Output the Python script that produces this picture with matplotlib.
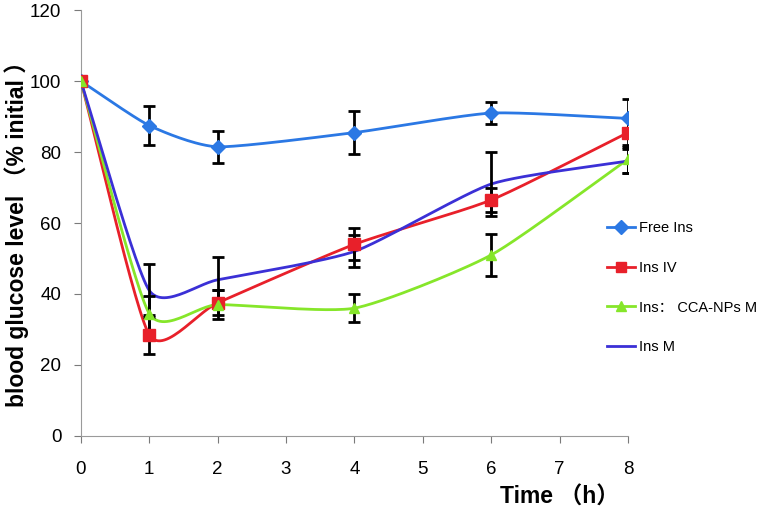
import numpy as np
import matplotlib.pyplot as plt

time_h = [0, 1, 2, 4, 6, 8]

free_ins = [100, 87.5, 81.5, 85.5, 91, 89.5]
free_ins_err = [0, 5.5, 4.5, 6, 3, 5.5]

ins_iv = [100, 28.5, 37.5, 54, 66.5, 85.5]
ins_iv_err = [0, 5.5, 3.5, 4.5, 3.5, 4]

ins_cca = [100, 34.5, 37, 36, 51, 78]
ins_cca_err = [0, 5, 4, 4, 6, 4]

ins_m = [100, 41, 44, 52, 71, 77.5]
ins_m_err = [0, 7.5, 6.5, 4.5, 9, 3.5]

labels = ['Free Ins', 'Ins IV', 'Ins\uff1a CCA-NPs M', 'Ins M']
colors = ['#2b78e4', '#e8202a', '#86e62a', '#3b30d6']
markers = ['D', 's', '^', None]

FONT = ['Liberation Sans', 'Noto Sans CJK SC', 'DejaVu Sans']
plt.rcParams['font.family'] = FONT


def smooth(x, y, n=30):
    # catmull-rom style smoothing, similar to excel smoothed lines
    x = np.asarray(x, float)
    y = np.asarray(y, float)
    px = np.concatenate([[2 * x[0] - x[1]], x, [2 * x[-1] - x[-2]]])
    py = np.concatenate([[2 * y[0] - y[1]], y, [2 * y[-1] - y[-2]]])
    xs, ys = [], []
    t = np.linspace(0, 1, n)
    for i in range(1, len(px) - 2):
        for p, out in ((px, xs), (py, ys)):
            p0, p1, p2, p3 = p[i - 1], p[i], p[i + 1], p[i + 2]
            m1 = (p2 - p0) / 2 * 0.6
            m2 = (p3 - p1) / 2 * 0.6
            h00 = 2 * t**3 - 3 * t**2 + 1
            h10 = t**3 - 2 * t**2 + t
            h01 = -2 * t**3 + 3 * t**2
            h11 = t**3 - t**2
            out.extend(h00 * p1 + h10 * m1 + h01 * p2 + h11 * m2)
    return np.array(xs), np.array(ys)


fig = plt.figure(figsize=(7.63, 5.11), dpi=100)
ax = fig.add_axes([0.106, 0.147, 0.717, 0.833])

series = [(free_ins, free_ins_err), (ins_iv, ins_iv_err), (ins_cca, ins_cca_err), (ins_m, ins_m_err)]
handles = []
for (vals, errs), c, m, lab in zip(series, colors, markers, labels):
    sx, sy = smooth(time_h, vals)
    ax.plot(sx, sy, color=c, lw=2, zorder=3)
    ax.errorbar(time_h, vals, yerr=errs, fmt='none', ecolor='black',
                elinewidth=2, capsize=4, capthick=2, zorder=4)
    if m is not None:
        ax.plot(time_h, vals, ls='none', marker=m, color=c,
                markersize=8 if m == 's' else 7, zorder=5)
    h, = ax.plot([], [], color=c, lw=2, marker=m, markersize=7, label=lab)
    handles.append(h)

ax.set_xlim(0, 8)
ax.set_ylim(0, 120)
ax.set_xticks(range(0, 9))
ax.set_yticks(range(0, 121, 20))
for s in ['top', 'right']:
    ax.spines[s].set_visible(False)
for s in ['left', 'bottom']:
    ax.spines[s].set_color('#9a9a9a')
ax.tick_params(colors='#7a7a7a', labelcolor='black', labelsize=13.5, direction='out', length=5)
ax.tick_params(axis='x', pad=13)
ax.tick_params(axis='y', pad=9)

fig.text(0.022, 0.553, 'blood glucose level \uff08% initial \uff09', fontsize=16.5,
         fontweight='bold', rotation=90, ha='center', va='center')
fig.text(0.733, 0.027, 'Time \uff08h\uff09', fontsize=16.5, fontweight='bold',
         ha='center', va='center')

fig.legend(handles=handles, loc='upper left', bbox_to_anchor=(0.788, 0.578),
           frameon=False, fontsize=10.5, handlelength=1.9, handletextpad=0.3,
           labelspacing=1.75, borderaxespad=0)

fig.savefig('out.png', dpi=100)
